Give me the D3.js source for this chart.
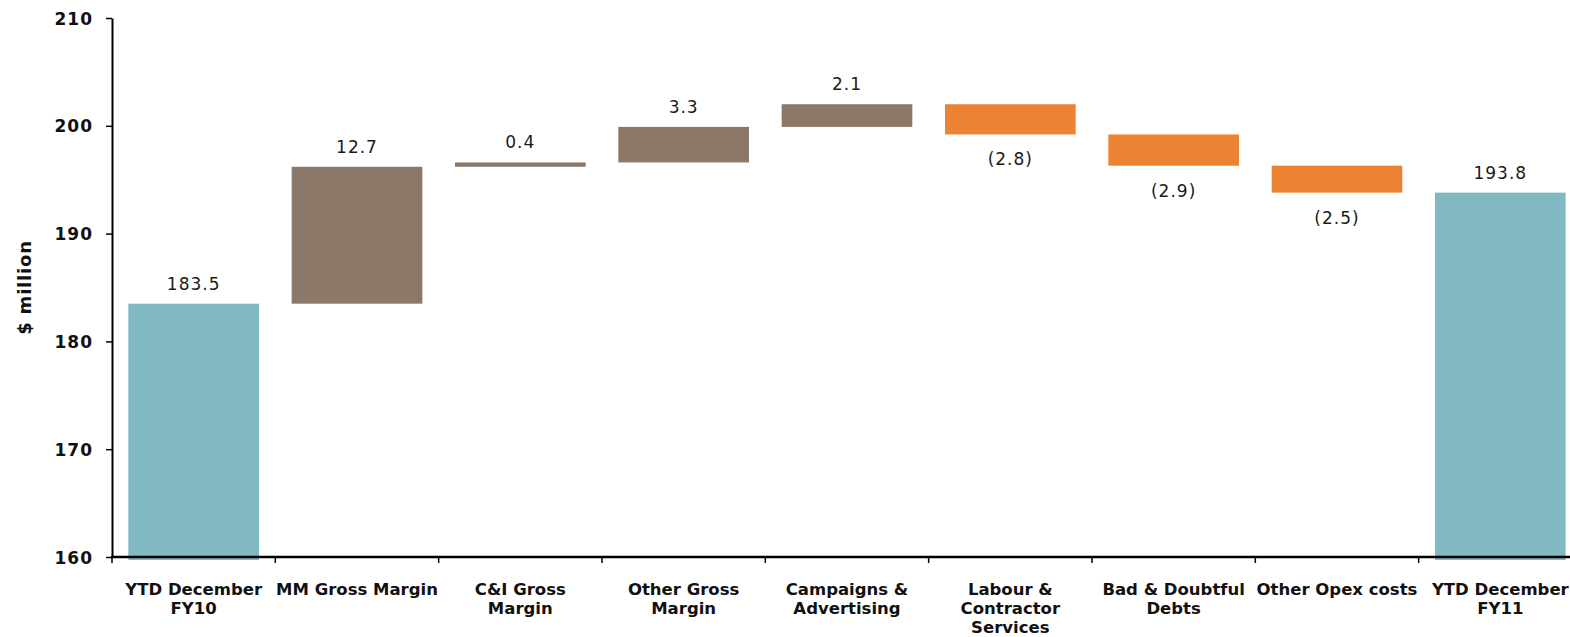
<!DOCTYPE html>
<html>
<head>
<meta charset="utf-8">
<script src="https://cdn.jsdelivr.net/npm/d3@7"></script>
<style>
  html, body { margin: 0; padding: 0; background: #ffffff; }
  svg { display: block; }
  .ytick text { font-family: "DejaVu Sans", Verdana, sans-serif; font-weight: bold; font-size: 17px; fill: #111; letter-spacing: 1px; }
  .cat-label { font-family: "DejaVu Sans", Verdana, sans-serif; font-weight: bold; font-size: 16.5px; fill: #111; }
  .val-label { font-family: "DejaVu Sans", Verdana, sans-serif; font-size: 17px; fill: #1a1a1a; letter-spacing: 1px; }
  .y-title { font-family: "DejaVu Sans", Verdana, sans-serif; font-weight: bold; font-size: 18px; fill: #111; letter-spacing: 0.8px; }
</style>
</head>
<body>
<svg id="chart" width="1570" height="637"></svg>
<script>
// Bridge from FY10 to FY11 YTD December ($ million)
const categories = [
  "YTD December\nFY10",
  "MM Gross Margin",
  "C&I Gross\nMargin",
  "Other Gross\nMargin",
  "Campaigns &\nAdvertising",
  "Labour &\nContractor\nServices",
  "Bad & Doubtful\nDebts",
  "Other Opex costs",
  "YTD December\nFY11"
];
// Each step: "total" bars start at the axis, "delta" bars float on the running sum
const stepTypes = ["total", "delta", "delta", "delta", "delta", "delta", "delta", "delta", "total"];
const stepValues = [183.5, 12.7, 0.4, 3.3, 2.1, -2.8, -2.9, -2.5, 193.8];
const yTicks = [160, 170, 180, 190, 200, 210];
const yDomain = [160, 210];

const colors = { total: "#80b9c1", up: "#8b7868", down: "#ec8333" };

const svg = d3.select("#chart");
const axisX = 112, topY = 18, baseY = 557;

const x = d3.scaleBand()
  .domain(categories)
  .range([axisX, axisX + 9 * 163.33])
  .paddingInner(0.2)
  .paddingOuter(0.1);

const y = d3.scaleLinear().domain(yDomain).range([baseY, topY]);

// running totals for the floating bars
let running = 0;
const bars = categories.map((c, i) => {
  const v = stepValues[i];
  let lo, hi, kind;
  if (stepTypes[i] === "total") {
    lo = yDomain[0]; hi = v; running = v; kind = "total";
  } else {
    const start = running;
    running = +(running + v).toFixed(2);
    lo = Math.min(start, running); hi = Math.max(start, running);
    kind = v >= 0 ? "up" : "down";
  }
  return { cat: c, v, lo, hi, kind, type: stepTypes[i] };
});

// bars
svg.append("g").selectAll("rect")
  .data(bars)
  .join("rect")
  .attr("x", d => x(d.cat))
  .attr("width", x.bandwidth())
  .attr("y", d => y(d.hi))
  .attr("height", d => y(d.lo) - y(d.hi) + (d.type === "total" ? 3 : 0))
  .attr("fill", d => colors[d.kind]);

// value labels
const fmt = d => d.v < 0 ? "(" + Math.abs(d.v).toFixed(1) + ")" : d.v.toFixed(1);
svg.append("g").selectAll("text")
  .data(bars)
  .join("text")
  .attr("class", "val-label")
  .attr("text-anchor", "middle")
  .attr("x", d => x(d.cat) + x.bandwidth() / 2)
  .attr("y", d => d.kind === "down" ? y(d.lo) + 31 : y(d.hi) - 14)
  .text(fmt);

// y axis
const yAxis = d3.axisLeft(y).tickValues(yTicks).tickSize(6).tickSizeOuter(0).tickPadding(13);
const gy = svg.append("g").attr("class", "ytick").attr("transform", `translate(${axisX},0)`).call(yAxis);
gy.select(".domain").attr("stroke", "#000").attr("stroke-width", 2);
gy.selectAll(".tick line").attr("stroke", "#000").attr("stroke-width", 1.5);
gy.selectAll(".tick text").attr("dy", "0.36em").attr("fill", "#111");

// x axis line and category boundary ticks
const step = x.step();
const boundaries = categories.map(c => x(c) - step * x.paddingInner() / 2);
const gx = svg.append("g");
gx.append("line")
  .attr("x1", axisX - 1).attr("x2", 1570)
  .attr("y1", baseY).attr("y2", baseY)
  .attr("stroke", "#000").attr("stroke-width", 2.5);
gx.selectAll("line.bt")
  .data(boundaries)
  .join("line")
  .attr("class", "bt")
  .attr("x1", d => d).attr("x2", d => d)
  .attr("y1", baseY).attr("y2", baseY + 6)
  .attr("stroke", "#000").attr("stroke-width", 1.5);

// category labels
const labels = gx.selectAll("text.cat-label")
  .data(categories)
  .join("text")
  .attr("class", "cat-label")
  .attr("text-anchor", "middle")
  .attr("x", d => x(d) + x.bandwidth() / 2)
  .attr("y", baseY + 38);
labels.selectAll("tspan")
  .data(d => d.split("\n").map(t => ({ t, cx: x(d) + x.bandwidth() / 2 })))
  .join("tspan")
  .attr("x", d => d.cx)
  .attr("dy", (d, i) => i === 0 ? 0 : 19)
  .text(d => d.t);

// y axis title
svg.append("text")
  .attr("class", "y-title")
  .attr("text-anchor", "middle")
  .attr("transform", `translate(31,${(topY + baseY) / 2}) rotate(-90)`)
  .text("$ million");
</script>
</body>
</html>
